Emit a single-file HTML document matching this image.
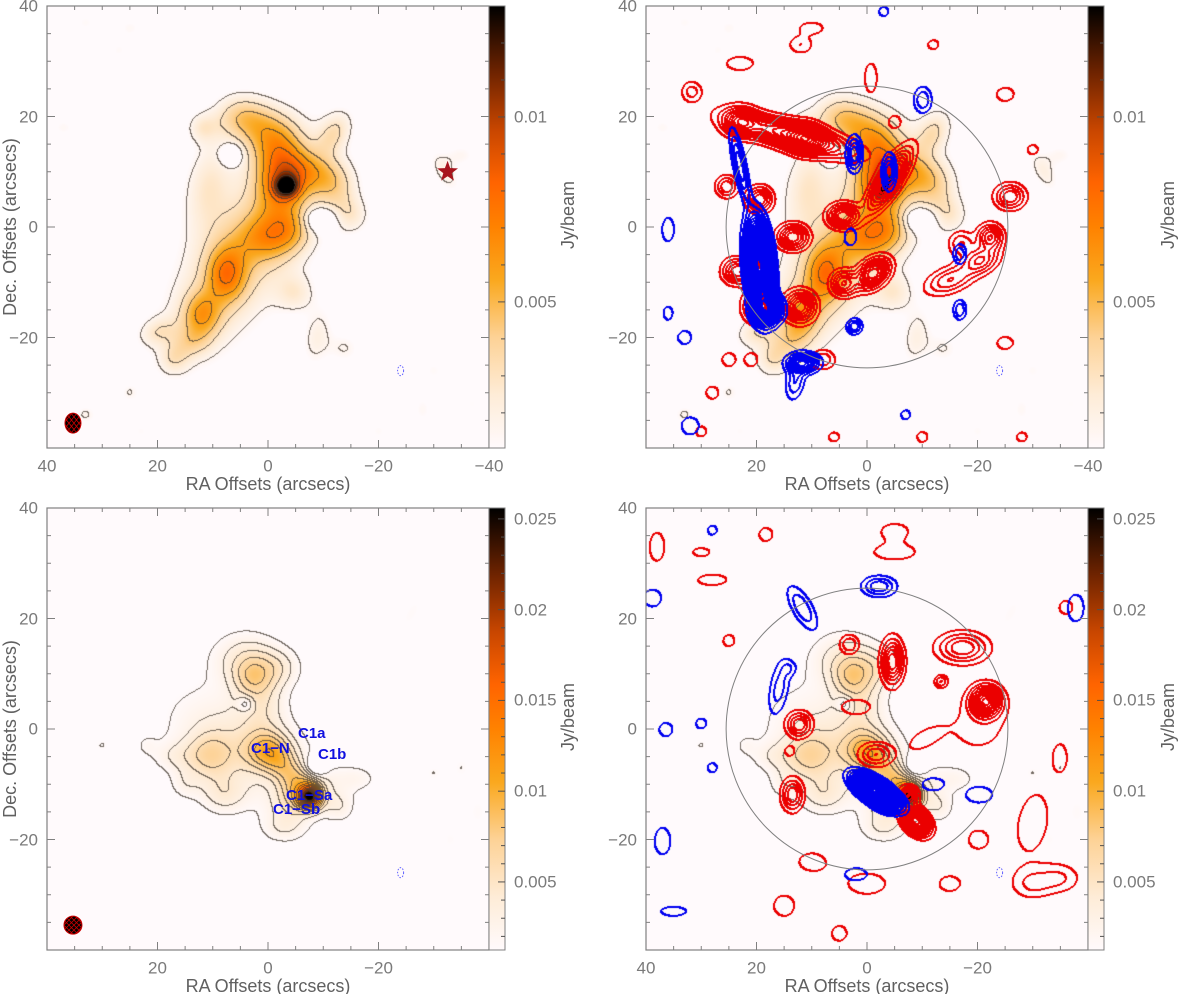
<!DOCTYPE html>
<html><head><meta charset="utf-8">
<style>
body{margin:0;background:#fff;}
#wrap{position:relative;width:1200px;height:994px;overflow:hidden;background:#fff;font-family:"Liberation Sans",sans-serif;}
canvas{position:absolute;}
svg{position:absolute;left:0;top:0;}
.t{position:absolute;color:#7a7a7a;font-size:17px;white-space:nowrap;line-height:1;}
.ttl{position:absolute;color:#606060;font-size:18px;white-space:nowrap;line-height:1;}
.lab{position:absolute;color:#1010e0;font-size:15px;font-weight:bold;white-space:nowrap;line-height:1;}
</style></head>
<body>
<div id="wrap">
<canvas id="c-tl" width="442" height="442" style="left:47px;top:6px"></canvas>
<canvas id="c-tr" width="442" height="442" style="left:646px;top:6px"></canvas>
<canvas id="c-bl" width="442" height="442" style="left:47px;top:508px"></canvas>
<canvas id="c-br" width="442" height="442" style="left:646px;top:508px"></canvas>
<svg id="ov" width="1200" height="994"></svg>

<div class="ttl" style="left:268px;top:484px;transform:translate(-50%,-50%)">RA Offsets (arcsecs)</div>
<div class="ttl" style="left:867px;top:484px;transform:translate(-50%,-50%)">RA Offsets (arcsecs)</div>
<div class="ttl" style="left:268px;top:986px;transform:translate(-50%,-50%)">RA Offsets (arcsecs)</div>
<div class="ttl" style="left:867px;top:986px;transform:translate(-50%,-50%)">RA Offsets (arcsecs)</div>
<div class="ttl" style="left:10px;top:227px;transform:translate(-50%,-50%) rotate(-90deg)">Dec. Offsets (arcsecs)</div>
<div class="ttl" style="left:10px;top:729px;transform:translate(-50%,-50%) rotate(-90deg)">Dec. Offsets (arcsecs)</div>
<div class="ttl" style="left:568px;top:215px;transform:translate(-50%,-50%) rotate(-90deg)">Jy/beam</div>
<div class="ttl" style="left:1168px;top:215px;transform:translate(-50%,-50%) rotate(-90deg)">Jy/beam</div>
<div class="ttl" style="left:568px;top:717px;transform:translate(-50%,-50%) rotate(-90deg)">Jy/beam</div>
<div class="ttl" style="left:1168px;top:717px;transform:translate(-50%,-50%) rotate(-90deg)">Jy/beam</div>

<div class="lab" style="left:298px;top:726px">C1a</div>
<div class="lab" style="left:251px;top:741px">C1−N</div>
<div class="lab" style="left:318px;top:747px">C1b</div>
<div class="lab" style="left:286px;top:788px">C1−Sa</div>
<div class="lab" style="left:273px;top:802px">C1−Sb</div>
<div id="txt"></div>
</div>

<script>
// ---------- data (arcsec offsets: ra, dec, sigmaMajor, sigmaMinor, angleDeg, amplitude) ----------
const topDust = [
 [-3.4,7.3,1.4,1.3,0,0.008],[-3,8,4,3,60,0.0045],[7.5,-8.5,2.5,3.5,0,0.0045],[12,-16,2.5,3,0,0.004],
 [4,-4,15,6.5,58,0.0038],[5,20,3.5,3,0,0.0035],[0,17,3.5,3.5,0,0.0035],[-2,13,4,3,60,0.003],
 [6.6,13,1.3,1.3,0,-0.0032],[-9.4,1.3,2,1.5,0,-0.0035],[11,8,6,3,80,0.0022],[12,18,2,2,0,0.002],
 [-12,17,3,2,60,0.0026],[-12,7,3,3,0,0.0026],[-15,2,2.5,2.5,0,0.0022],[-8,10,4,2.5,0,0.0026],
 [-5,-12,2.5,2.5,0,0.002],[-9,-20,4,2,80,0.0019],[-14,-22,2,2,0,0.0015],
 [20,-19,2.5,1.8,20,0.002],[17,-24,2,2,0,0.0019],[14,-21,2.5,2,0,0.0018],
 [0,-2,4,3,0,0.003],[-4,0,3,3,0,0.0025],[-32,10,3,1.5,-60,0.002],[-35,13,2,1.5,0,0.0014],
 [33,-34,1.5,1.3,0,0.0016],[25,-30,1.2,1.2,0,0.0013],[27,32,1.2,1.2,0,0.0012],[25,36,1.5,1.3,0,0.0013],[33,37,1.5,1.3,0,0.0012],
 [-28,-33,1.3,2,0,0.0013],[-30,-26,1.5,1.5,0,0.0012],[-37,-32,1.5,1.5,0,0.0011],[-20,-37,1.3,1.3,0,0.0012],[23,-37,1.2,1.2,0,0.001],
 [37,18,1.5,1.2,0,0.0013],[-22,28,1.5,1.2,0,0.0009],[-36,-18,2,1.2,60,0.0009]
];
const bottomDust = [
 [-7.6,-12.3,1.4,1.4,0,0.019],[-6,-12,3.5,2.5,30,0.0055],[0,-4,3,2.5,0,0.006],[-4,-8,4,2,-47,0.0045],
 [5,-3,10,6,-30,0.0038],[10.5,-5,3,3,0,0.0042],[3,9.5,2.5,2.5,0,0.0038],[4,13,4.5,3.5,0,0.0035],[-2,11,3,2.5,0,0.0028],[1,5,3,4,0,0.003],
 [-8.8,-6.8,1.3,1.3,0,-0.0045],[4,4.5,1,1,0,-0.003],[17,-5,3,2,0,0.002],[15,-10,2,2,0,0.0018],
 [-16,-9,3,1.8,0,0.002],[-13,-14,2,2,0,0.0025],[-3,-18,3,2,0,0.0025],[8,-12,3,2.5,0,0.003],
 [-30,-8,1.5,1.5,0,0.0015],[-35,-7,1.5,2,0,0.0015],[-38,-15,1.5,2.5,0,0.0015],[-33,-20,1.5,2,0,0.0014],
 [-26,21,3,1.2,60,0.0015],[30,-3,1.5,1.3,0,0.0015],[22,-3,1.3,1.3,0,0.0012],[-24,-17,1.3,1.3,0,0.0012],
 [25,22,1.2,1.2,0,0.0011],[-33,-27,1.5,1.5,0,0.0012],[12,-25,1.3,1.3,0,0.0011],[-20,-33,1.3,1.3,0,0.0011]
];
const trRed = [
 [13.6,16.6,7,1.6,-15,9],[23,19,2,1.7,0,6],[11,16,2,1.7,0,6],[-4,8.5,4,1.3,57,10],[4.3,2,1.8,1.4,0,8],
 [19.4,5,1.5,1.5,0,6],[25.4,7.3,1.3,1.3,0,4],[13.4,-1.8,1.8,1.5,0,7],[20,-8,1.8,1.5,0,8],[24,-8,1.5,1.5,0,5],
 [19.4,-14.4,1.8,1.8,0,8],[12.1,-14.4,1.8,1.8,0,8],[4.3,-10.2,1.5,1.5,0,6],[-1.1,-8.4,2.2,1.5,40,9],
 [-22.3,-1.8,1.5,1.5,0,6],[-20.5,-6,2.2,1.5,20,5],[-15,-9.6,3,1.5,20,4],[-25.9,5.5,1.8,1.5,0,5],[-17,-3,1.5,1.5,0,3],
 [8,-24,1.5,1.2,0,3],[25,-24,1,1,0,2],[21,-24,1,1,0,2],
 [31.7,24.5,1.3,1.3,0,2.5],[23,29.6,2,1,0,2],[-0.7,27,2.2,0.9,90,2],[-25,24,1.3,1,0,2],[-30,14,1,0.9,0,1.5],
 [10,36,1.8,0.9,0,1.8],[-10,-38,1,1,0,1.5],[-28,-38,1,0.9,0,1.5],[30,-37,1,1,0,1.5],[-5,19,1,1,0,1.8],
 [-25,-21,1.3,1,0,1.8],[6,-38,1,0.9,0,1.5],[-12,33,1,0.9,0,1.5],[28,-30,1,1,0,1.8],[12,33,1.6,1.2,0,2]
];
const trBlue = [
 [19.5,-7,4.5,1.3,-85,30],[18,-15,1.6,1.6,0,12],[23,11,4,0.7,-78,5],[11.6,-24.6,1.8,1.1,0,8],[13,-28,2.2,1.1,80,3],
 [2.3,13.2,2,0.9,90,5],[-4,10,2,0.8,90,5],[-10.1,23,1.6,1.1,90,3],[-16.8,-4.9,1.2,0.8,90,3],[-16.8,-15,1.2,0.8,90,3],
 [2.3,-18,0.9,0.9,0,4],[3,-1.8,1.3,0.9,90,2],[36,-0.5,1.8,0.9,90,2],[36,-15.6,1.3,0.9,90,1.5],[33,-20,1,1,0,2],
 [32,-36,1.3,1.3,0,2],[-7,-34,0.9,0.9,0,1.5],[-3,39,0.9,0.9,0,1.5]
];
const brRed = [
 [-8.9,-16.7,1.8,1.2,-45,14],[-7.5,-12,1.1,1.1,0,6],[-1.6,-4.6,2,1.4,0,4],[-4.6,12.2,2.6,1.3,90,7],
 [-17.3,14.7,3,1.8,0,5],[-21.5,5,1.8,1.8,0,10],[-13.4,8.6,0.8,0.8,0,3],[12.3,0.8,1.5,1.5,0,5],[13.5,-11.9,1.9,1.3,90,5],
 [3.2,15.3,1.2,1.2,0,3],[18.3,35.2,1,1,0,2],
 [-5,32,5,1.8,0,1.3],[-20,0,5,4,0,1.3],[-30,-17,7,3.5,80,1.3],[-30,-28,2.5,1.8,0,2],[0,-28,4.5,2.5,0,1.3],[-15,-28,2.5,1.8,0,1.3],
 [28,27,3.5,1.3,0,1.3],[38,33,3.5,1.8,90,1.3],[5,-37,1.8,1.8,0,1.3],[15,-32,2.5,2.5,0,1.3],[-20,-20,2.5,2.5,0,1.2],[-36,22,1.3,1.3,0,1.5],
 [-35,-5,2.5,1.3,90,1.3],[25,16,1.1,1.1,0,1.5],[2,4,3.5,1.8,0,1.3],[14,-4,1,1,0,1.4],[-35,-27,2.5,1.8,0,2],[-5,36,2.5,1.3,0,1.4],
 [-10,-2,3,1.5,30,1.3],[10,-24,3,2,0,1.3],[30,32,2,1,0,1.3]
];
const brBlue = [
 [-1.6,-11.3,2.6,1.1,-33,30],[-2.2,25.8,2,1.2,0,4],[11.7,21.9,3,1.2,-60,3],[15.9,7.4,3.5,1.2,80,2.5],
 [-20.3,-11.9,2.2,1.3,0,1.8],[38.8,23.7,1.3,1.3,0,2],[36.4,-0.1,1.1,1.1,0,1.8],[37,-20.3,2.2,1.3,90,1.8],
 [2,-26.3,1.8,1,0,1.8],[-37.8,21.9,2.2,1.3,90,1.8],[30,1,1,1,0,1.5],[28,-7,0.9,0.9,0,1.5],[35,-33,2.5,0.9,0,1.5],
 [-12,-10,1.8,1,0,1.8],[28,36,0.9,0.9,0,1.5],[14,11,1,1,0,1.5],[-4,-14,1.8,1,0,1.5]
];
const xTicksTL = [40,20,0,-20,-40];
const xTicksTR = [20,0,-20,-40];
const xTicksBL = [20,0,-20];
const xTicksBR = [40,20,0,-20];
const yTicks = [40,20,0,-20];
const cbTicksTop = [0.005,0.01];
const cbTicksBottom = [0.005,0.01,0.015,0.02,0.025];
const topRange = [0.00105,0.0130];
const bottomRange = [0.00125,0.0256];
const topLevels = [0.0015,0.003,0.0045,0.006,0.0075,0.009,0.0105,0.012];
const bottomLevels = [0.0015,0.003,0.0045,0.006,0.0075,0.009,0.011,0.013,0.015,0.017,0.019,0.021,0.023];

// ---------- axis functions ----------
const S = 442/80;
function px(x0, ra){ return x0 + (40 - ra)*S; }
function py(y0, dec){ return y0 + (40 - dec)*S; }

const cmapStops = [[0,255,250,252],[0.12,254,236,215],[0.25,253,210,150],[0.38,250,168,30],[0.5,255,130,0],[0.6,255,100,0],[0.72,200,70,0],[0.85,110,35,0],[1,0,0,0]];
function cmap(t){
  t = Math.max(0,Math.min(1,t));
  for(let k=1;k<cmapStops.length;k++){
    if(t<=cmapStops[k][0]){
      const a=cmapStops[k-1], b=cmapStops[k]; const f=(t-a[0])/(b[0]-a[0]);
      return [a[1]+(b[1]-a[1])*f, a[2]+(b[2]-a[2])*f, a[3]+(b[3]-a[3])*f];
    }
  }
  return [0,0,0];
}
function field(comps, ra, dec){
  let v=0; const X=-ra;
  for(const c of comps){
    const dx=X-(-c[0]), dy=dec-c[1];
    if(Math.abs(dx)>5*c[2]||Math.abs(dy)>5*c[2]) continue;
    const th=c[4]*Math.PI/180, cs=Math.cos(th), sn=Math.sin(th);
    const u=dx*cs+dy*sn, w=-dx*sn+dy*cs;
    v+=c[5]*Math.exp(-0.5*(u*u/(c[2]*c[2])+w*w/(c[3]*c[3])));
  }
  return v;
}
function lvlIndex(v, levels){ let n=0; for(const l of levels){ if(v>=l) n++; else break;} return n; }

function renderPanel(id, dust, range, levels, red, blue){
  const cv=document.getElementById(id), ctx=cv.getContext('2d');
  const W=442, img=ctx.createImageData(W,W), d=img.data;
  const D=new Float32Array(W*W), LD=new Int16Array(W*W), LR=new Int16Array(W*W), LB=new Int16Array(W*W);
  for(let j=0;j<W;j++) for(let i=0;i<W;i++){
    const ra=40-(i+0.5)/S, dec=40-(j+0.5)/S, k=j*W+i;
    const v=field(dust,ra,dec); D[k]=v; LD[k]=lvlIndex(v,levels);
    if(red){ LR[k]=Math.min(80,Math.floor(field(red,ra,dec))); }
    if(blue){ LB[k]=Math.min(80,Math.floor(field(blue,ra,dec))); }
  }
  for(let k=0;k<W*W;k++){
    const c=cmap((D[k]-range[0])/(range[1]-range[0]));
    d[4*k]=c[0]; d[4*k+1]=c[1]; d[4*k+2]=c[2]; d[4*k+3]=255;
  }
  function mark(L, col, alpha, thick){
    for(let j=0;j<W-1;j++) for(let i=0;i<W-1;i++){
      const k=j*W+i;
      if(L[k]!==L[k+1]||L[k]!==L[k+W]){
        const ks = thick ? [k,k+1,k+W] : [k];
        for(const q of ks){
          d[4*q]=d[4*q]*(1-alpha)+col[0]*alpha; d[4*q+1]=d[4*q+1]*(1-alpha)+col[1]*alpha; d[4*q+2]=d[4*q+2]*(1-alpha)+col[2]*alpha;
        }
      }
    }
  }
  mark(LD,[70,60,50],0.75,false);
  if(red) mark(LR,[235,0,0],1,true);
  if(blue) mark(LB,[0,0,240],1,true);
  ctx.putImageData(img,0,0);
}
renderPanel('c-tl', topDust, topRange, topLevels, null, null);
renderPanel('c-tr', topDust, topRange, topLevels, trRed, trBlue);
renderPanel('c-bl', bottomDust, bottomRange, bottomLevels, null, null);
renderPanel('c-br', bottomDust, bottomRange, bottomLevels, brRed, brBlue);

// ---------- axes, colorbars, text ----------
const NS='http://www.w3.org/2000/svg', ov=document.getElementById('ov'), txt=document.getElementById('txt');
function sv(tag, attrs, name, parent){
  const e=document.createElementNS(NS,tag);
  for(const k in attrs) e.setAttribute(k,attrs[k]);
  
  
  (parent||ov).appendChild(e); return e;
}
function label(text, x, y, align, name){
  const e=document.createElement('div'); e.className='t'; e.textContent=text;
  e.style.left=x+'px'; e.style.top=y+'px';
  e.style.transform = align==='c' ? 'translate(-50%,-50%)' : (align==='r' ? 'translate(-100%,-50%)' : 'translate(0,-50%)');
  
  
  txt.appendChild(e);
}
function fmt(v){ return v<0 ? '−'+Math.abs(v) : String(v); }

const defs=document.createElementNS(NS,'defs');
const lg=document.createElementNS(NS,'linearGradient');
lg.setAttribute('id','cg'); lg.setAttribute('x1','0'); lg.setAttribute('y1','1'); lg.setAttribute('x2','0'); lg.setAttribute('y2','0');
for(const s of cmapStops){ const st=document.createElementNS(NS,'stop'); st.setAttribute('offset',s[0]); st.setAttribute('stop-color','rgb('+s[1]+','+s[2]+','+s[3]+')'); lg.appendChild(st);}
defs.appendChild(lg); ov.appendChild(defs);

const panels=[
 {n:'top-left',x0:47,y0:6,xt:xTicksTL,cb:cbTicksTop,rg:topRange,yl:38},
 {n:'top-right',x0:646,y0:6,xt:xTicksTR,cb:cbTicksTop,rg:topRange,yl:637},
 {n:'bottom-left',x0:47,y0:508,xt:xTicksBL,cb:cbTicksBottom,rg:bottomRange,yl:38},
 {n:'bottom-right',x0:646,y0:508,xt:xTicksBR,cb:cbTicksBottom,rg:bottomRange,yl:637}
];
for(const p of panels){
  const W=442, x0=p.x0, y0=p.y0;
  sv('rect',{x:x0,y:y0,width:W,height:W,fill:'none',stroke:'#808080','stroke-width':1.2}, p.n+'-frame');
  for(let v=-40; v<=40; v+=5){
    const L = (v%20===0)?8:4;
    const X=px(x0,v), Y=py(y0,v);
    sv('line',{x1:X,y1:y0+W,x2:X,y2:y0+W-L,stroke:'#808080','stroke-width':1}, p.n+'-x-tick');
    sv('line',{x1:X,y1:y0,x2:X,y2:y0+L,stroke:'#808080','stroke-width':1}, p.n+'-x-tick-top');
    sv('line',{x1:x0,y1:Y,x2:x0+L,y2:Y,stroke:'#808080','stroke-width':1}, p.n+'-y-tick');
    sv('line',{x1:x0+W,y1:Y,x2:x0+W-L,y2:Y,stroke:'#808080','stroke-width':1}, p.n+'-y-tick-right');
  }
  for(const v of p.xt) label(fmt(v), px(x0,v), y0+W+18, 'c', p.n+'-x-tick-label');
  for(const v of yTicks) label(fmt(v), p.yl, py(y0,v), 'r', p.n+'-y-tick-label');
  const cx=x0+W, cw=16;
  sv('rect',{x:cx,y:y0,width:cw,height:W,fill:'url(#cg)',stroke:'#808080','stroke-width':1}, p.n+'-colorbar');
  const cy = v => y0 + W - (v-p.rg[0])/(p.rg[1]-p.rg[0])*W;
  for(let v=Math.ceil(p.rg[0]*1000)/1000; v<=p.rg[1]; v+=0.001){
    const maj = Math.abs(Math.round(v*200)-v*200)<1e-6;
    sv('line',{x1:cx+cw,y1:cy(v),x2:cx+cw-(maj?7:4),y2:cy(v),stroke:'#505050','stroke-width':1}, p.n+'-colorbar-tick');
  }
  for(const v of p.cb) label(String(v), cx+cw+9, cy(v), 'l', p.n+'-colorbar-label');
}
for(const p of [panels[1],panels[3]]){
  sv('circle',{cx:px(p.x0,0),cy:py(p.y0,0),r:25.5*S,fill:'none',stroke:'#808080','stroke-width':1}, p.n+'-primary-beam-circle');
}
let bi=0;
function beam(cx,cy,rx,ry,name){
  bi++;
  const cp=document.createElementNS(NS,'clipPath'); cp.setAttribute('id','bc'+bi);
  const ce=document.createElementNS(NS,'ellipse'); ce.setAttribute('cx',cx); ce.setAttribute('cy',cy); ce.setAttribute('rx',rx); ce.setAttribute('ry',ry);
  cp.appendChild(ce); defs.appendChild(cp);
  sv('ellipse',{cx:cx,cy:cy,rx:rx,ry:ry,fill:'#000',stroke:'#c00','stroke-width':1}, name);
  const g=sv('g',{'clip-path':'url(#bc'+bi+')'}, name+'-hatching');
  for(let o=-14;o<=14;o+=5){
    sv('line',{x1:cx-rx+o,y1:cy-ry,x2:cx+rx+o,y2:cy+ry,stroke:'#c00','stroke-width':0.8}, name+'-hatch', g);
    sv('line',{x1:cx+rx+o,y1:cy-ry,x2:cx-rx+o,y2:cy+ry,stroke:'#c00','stroke-width':0.8}, name+'-hatch', g);
  }
}
beam(px(47,35.3),py(6,-35.5),8,10,'top-left-synthesized-beam');
beam(px(47,35.3),py(508,-35.5),9,9,'bottom-left-synthesized-beam');
(function(){
  const cx=px(47,-32.5), cy=py(6,10), R=11, r=4.5; let pts=[];
  for(let k=0;k<10;k++){ const a=-Math.PI/2+k*Math.PI/5, rr=k%2?r:R; pts.push((cx+rr*Math.cos(a)).toFixed(1)+','+(cy+rr*Math.sin(a)).toFixed(1)); }
  sv('polygon',{points:pts.join(' '),fill:'#a8141c'}, 'star-marker');
})();
for(const p of panels){
  sv('ellipse',{cx:px(p.x0,-24),cy:py(p.y0,-26),rx:3,ry:5,fill:'none',stroke:'#6060ff','stroke-width':1,'stroke-dasharray':'1.5,1.5'}, p.n+'-negative-contour');
}
</script>
</body></html>
